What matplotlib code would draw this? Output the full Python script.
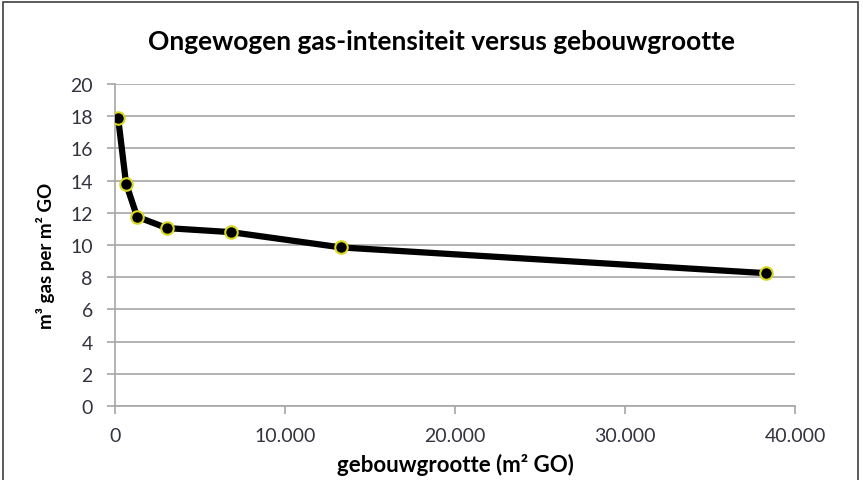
import matplotlib.pyplot as plt
import matplotlib.ticker as mticker
from matplotlib.patches import Rectangle

# data
gebouwgrootte = [180, 650, 1300, 3060, 6820, 13300, 38300]
gas_intensiteit = [17.9, 13.8, 11.75, 11.05, 10.8, 9.85, 8.25]
x_ticks = [0, 10000, 20000, 30000, 40000]
y_ticks = [0, 2, 4, 6, 8, 10, 12, 14, 16, 18, 20]

plt.rcParams['font.family'] = ['Lato', 'DejaVu Sans']

fig = plt.figure(figsize=(8.63, 4.81), dpi=100)
ax = fig.add_axes([0.1333, 0.1538, 0.7879, 0.6695])

ax.plot(gebouwgrootte, gas_intensiteit, color='black', linewidth=4.5,
        marker='o', markersize=9, markerfacecolor='black',
        markeredgecolor='#d8d820', markeredgewidth=1.5, zorder=3)

ax.set_xlim(0, 40000)
ax.set_ylim(0, 20)
ax.set_xticks(x_ticks)
ax.set_yticks(y_ticks)
ax.xaxis.set_major_formatter(mticker.FuncFormatter(lambda v, p: f'{int(v):,}'.replace(',', '.')))

ax.grid(axis='y', color='#a6a6a6', linewidth=1.2)
ax.set_axisbelow(True)
for s in ['top', 'right']:
    ax.spines[s].set_visible(False)
for s in ['left', 'bottom']:
    ax.spines[s].set_color('#a6a6a6')
    ax.spines[s].set_linewidth(1.2)
ax.tick_params(axis='both', colors='#a6a6a6', labelcolor='#333340', labelsize=14,
               length=6, width=1.2)
ax.tick_params(axis='x', pad=9)
ax.tick_params(axis='y', pad=10)

fig.text(441 / 863, 1 - 42 / 481, 'Ongewogen gas-intensiteit versus gebouwgrootte',
         fontsize=19, fontweight='bold', ha='center', va='center')
ax.set_xlabel('gebouwgrootte (m² GO)', fontsize=16, fontweight='bold')
ax.set_ylabel('m³ gas per m² GO', fontsize=13.5, fontweight='bold')
ax.xaxis.set_label_coords(0.5, -0.18)
ax.yaxis.set_label_coords(-0.103, 0.47)
ax.xaxis.label.set_va('center')
ax.yaxis.label.set_va('center')

# chart frame
fig.patches.append(Rectangle((3 / 863, -0.05), 855 / 863, 1.05 - 3 / 481,
                             transform=fig.transFigure, fill=False,
                             edgecolor='#404040', linewidth=1.2))

fig.savefig('out.png', dpi=100)
